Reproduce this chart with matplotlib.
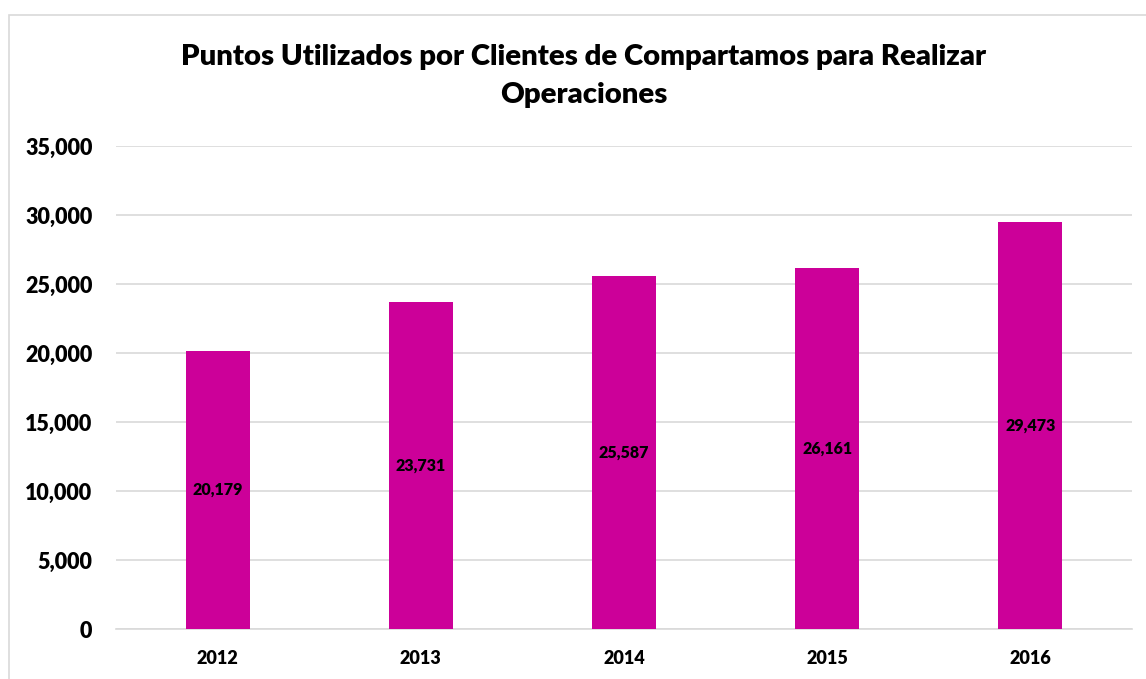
import matplotlib
matplotlib.use('Agg')
from matplotlib import pyplot as plt
from matplotlib.patches import Rectangle

years = ['2012', '2013', '2014', '2015', '2016']
puntos = [20179, 23731, 25587, 26161, 29473]
yticks = [0, 5000, 10000, 15000, 20000, 25000, 30000, 35000]

W, H = 1146, 679
bar_color = '#CC0099'
grid_color = '#D9D9D9'
plt.rcParams['font.family'] = ['Lato', 'DejaVu Sans']
wt = 'heavy'

fig = plt.figure(figsize=(W / 100, H / 100), dpi=100)

# outer chart border (cropped at right and bottom)
fig.patches.append(Rectangle((9 / W, -0.1), 1.2, (H - 15) / H + 0.1,
                             transform=fig.transFigure, fill=False,
                             edgecolor=grid_color, linewidth=1.2))

ax = fig.add_axes([116 / W, (H - 629) / H, (1132 - 116) / W, (629 - 146) / H])
x = range(len(years))
bars = ax.bar(x, puntos, width=0.315, color=bar_color, zorder=3)

for xi, v in zip(x, puntos):
    ax.text(xi, v / 2, f'{v:,}', ha='center', va='center',
            fontsize=11.5, fontweight=wt, color='black', zorder=4)

ax.set_xlim(-0.5, len(years) - 0.5)
ax.set_ylim(0, 35000)
ax.set_yticks(yticks)
ax.set_yticklabels([f'{t:,}' for t in yticks])
ax.set_xticks(list(x))
ax.set_xticklabels(years)
ax.grid(axis='y', color=grid_color, linewidth=1.2, zorder=0)
for s in ['top', 'right', 'left']:
    ax.spines[s].set_visible(False)
ax.spines['bottom'].set_color(grid_color)
ax.spines['bottom'].set_linewidth(1.2)
ax.tick_params(axis='both', length=0)
ax.tick_params(axis='y', pad=17, labelsize=15.5)
ax.tick_params(axis='x', pad=15, labelsize=13)
for lab in ax.get_xticklabels() + ax.get_yticklabels():
    lab.set_fontweight(wt)

fig.text(584 / W, 1 - 57 / H, 'Puntos Utilizados por Clientes de Compartamos para Realizar',
         ha='center', va='center', fontsize=21.1, fontweight=wt)
fig.text(584 / W, 1 - 95 / H, 'Operaciones',
         ha='center', va='center', fontsize=21.1, fontweight=wt)

fig.savefig('out.png', dpi=100)
